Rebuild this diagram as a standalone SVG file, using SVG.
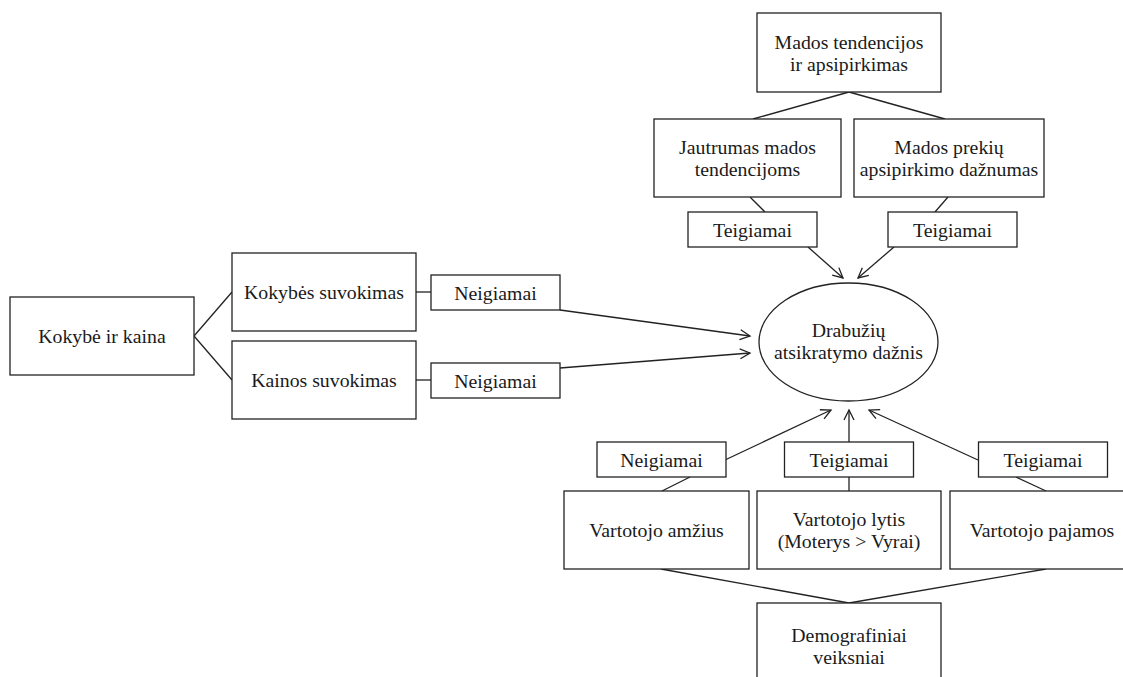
<svg xmlns="http://www.w3.org/2000/svg" width="1123" height="677" viewBox="0 0 1123 677">
  <style>
    .box { fill: #ffffff; stroke: #222222; stroke-width: 1.3; }
    .lbl { font-family: "Liberation Serif", "Times New Roman", serif; font-size: 19.8px; fill: #1a1a1a; text-anchor: middle; }
    .edge { fill: none; stroke: #222222; stroke-width: 1.3; }
    .arrow { fill: none; stroke: #222222; stroke-width: 1.3; marker-end: url(#open-head); }
  </style>
  <defs>
    <marker id="open-head" markerUnits="userSpaceOnUse" markerWidth="14" markerHeight="14" refX="11" refY="6" orient="auto">
      <path d="M1,1 L11,6 L1,11" fill="none" stroke="#222222" stroke-width="1.3"/>
    </marker>
  </defs>
  <rect width="1123" height="677" fill="#ffffff"/>

  <!-- connectors -->
  <g id="connectors">
    <line class="edge" x1="194" y1="336" x2="232" y2="292"/>
    <line class="edge" x1="194" y1="336" x2="232" y2="380"/>
    <line class="edge" x1="416" y1="292" x2="431" y2="292"/>
    <line class="edge" x1="416" y1="380" x2="431" y2="380"/>
    <line class="edge" x1="849" y1="92" x2="753" y2="119"/>
    <line class="edge" x1="849" y1="92" x2="945" y2="119"/>
    <line class="edge" x1="750" y1="197" x2="765" y2="212"/>
    <line class="edge" x1="948" y1="197" x2="935" y2="212"/>
    <line class="edge" x1="690" y1="477" x2="662" y2="491"/>
    <line class="edge" x1="849" y1="477" x2="849" y2="491"/>
    <line class="edge" x1="1016" y1="477" x2="1046" y2="491"/>
    <line class="edge" x1="661" y1="569" x2="849" y2="603"/>
    <line class="edge" x1="1046" y1="569" x2="849" y2="603"/>

    <line class="arrow" x1="560" y1="310" x2="750" y2="336"/>
    <line class="arrow" x1="560" y1="368" x2="750" y2="353"/>
    <line class="arrow" x1="808" y1="247" x2="843" y2="278"/>
    <line class="arrow" x1="894" y1="247" x2="858" y2="278"/>
    <line class="arrow" x1="725" y1="460" x2="831" y2="410"/>
    <line class="arrow" x1="849" y1="442" x2="849" y2="410"/>
    <line class="arrow" x1="978" y1="460" x2="869" y2="410"/>
  </g>

  <!-- fashion branch -->
  <g id="n-mados">
    <rect class="box" x="757" y="13" width="184" height="79"/>
    <text class="lbl" x="849" y="48.5">Mados tendencijos</text>
    <text class="lbl" x="849" y="71">ir apsipirkimas</text>
  </g>
  <g id="n-jautrumas">
    <rect class="box" x="654" y="119" width="187" height="78"/>
    <text class="lbl" x="747.5" y="153.5">Jautrumas mados</text>
    <text class="lbl" x="747.5" y="176">tendencijoms</text>
  </g>
  <g id="n-daznumas">
    <rect class="box" x="854" y="119" width="190" height="78"/>
    <text class="lbl" x="949" y="153.5">Mados prekių</text>
    <text class="lbl" x="949" y="176">apsipirkimo dažnumas</text>
  </g>
  <g id="n-teig-1">
    <rect class="box" x="688" y="212" width="129" height="35"/>
    <text class="lbl" x="752.5" y="236.5">Teigiamai</text>
  </g>
  <g id="n-teig-2">
    <rect class="box" x="888" y="212" width="129" height="35"/>
    <text class="lbl" x="952.5" y="236.5">Teigiamai</text>
  </g>

  <!-- quality and price branch -->
  <g id="n-kokybe-kaina">
    <rect class="box" x="10" y="297" width="184" height="78"/>
    <text class="lbl" x="102" y="343">Kokybė ir kaina</text>
  </g>
  <g id="n-kokybes">
    <rect class="box" x="232" y="253" width="184" height="78"/>
    <text class="lbl" x="324" y="299">Kokybės suvokimas</text>
  </g>
  <g id="n-kainos">
    <rect class="box" x="232" y="341" width="184" height="78"/>
    <text class="lbl" x="324" y="387">Kainos suvokimas</text>
  </g>
  <g id="n-neig-1">
    <rect class="box" x="431" y="275" width="129" height="35"/>
    <text class="lbl" x="495.5" y="299.5">Neigiamai</text>
  </g>
  <g id="n-neig-2">
    <rect class="box" x="431" y="363" width="129" height="35"/>
    <text class="lbl" x="495.5" y="387.5">Neigiamai</text>
  </g>

  <!-- outcome -->
  <g id="n-daznis">
    <ellipse class="box" cx="848.5" cy="342" rx="89.5" ry="59"/>
    <text class="lbl" x="848.5" y="336.5">Drabužių</text>
    <text class="lbl" x="848.5" y="358.5">atsikratymo dažnis</text>
  </g>

  <!-- demographic branch -->
  <g id="n-neig-3">
    <rect class="box" x="597" y="442" width="129" height="35"/>
    <text class="lbl" x="661.5" y="466.5">Neigiamai</text>
  </g>
  <g id="n-teig-3">
    <rect class="box" x="784.5" y="442" width="129" height="35"/>
    <text class="lbl" x="849" y="466.5">Teigiamai</text>
  </g>
  <g id="n-teig-4">
    <rect class="box" x="978.5" y="442" width="129" height="35"/>
    <text class="lbl" x="1043" y="466.5">Teigiamai</text>
  </g>
  <g id="n-amzius">
    <rect class="box" x="564" y="491" width="185" height="78"/>
    <text class="lbl" x="656.5" y="537">Vartotojo amžius</text>
  </g>
  <g id="n-lytis">
    <rect class="box" x="757" y="491" width="184" height="78"/>
    <text class="lbl" x="849" y="525.5">Vartotojo lytis</text>
    <text class="lbl" x="849" y="548">(Moterys &gt; Vyrai)</text>
  </g>
  <g id="n-pajamos">
    <rect class="box" x="950" y="491" width="184" height="78"/>
    <text class="lbl" x="1042" y="537">Vartotojo pajamos</text>
  </g>
  <g id="n-demografiniai">
    <rect class="box" x="757" y="603" width="184" height="90"/>
    <text class="lbl" x="849" y="641.5">Demografiniai</text>
    <text class="lbl" x="849" y="663.5">veiksniai</text>
  </g>
</svg>
